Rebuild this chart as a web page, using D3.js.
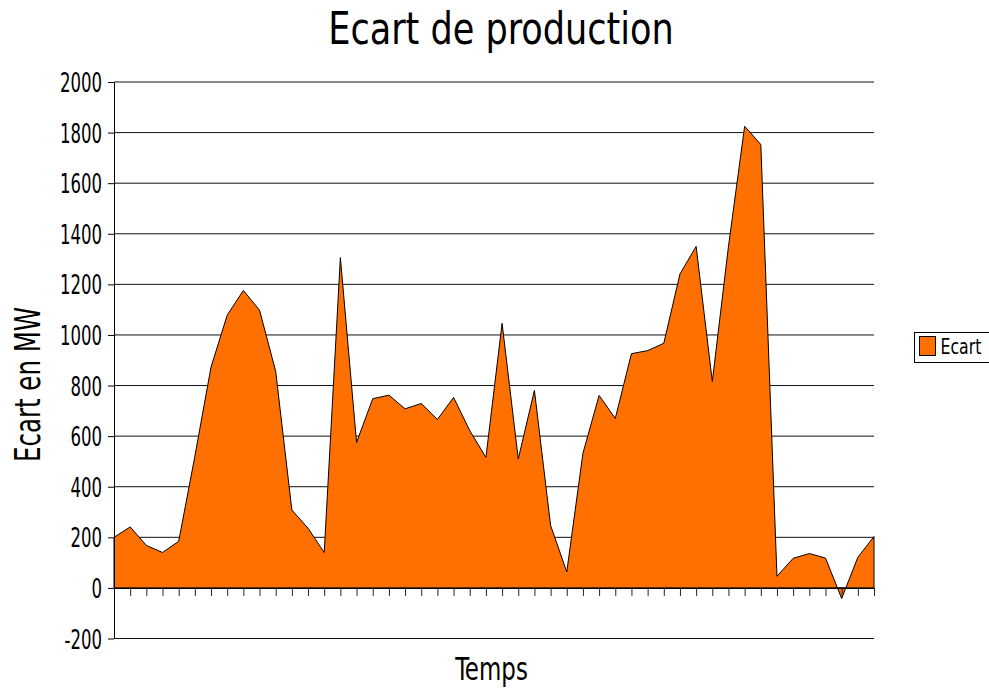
<!DOCTYPE html>
<meta charset="utf-8">
<script src="https://cdn.jsdelivr.net/npm/d3@7"></script>
<style>
  body { margin: 0; background: #fff; }
  text { font-family: "DejaVu Sans Condensed", "DejaVu Sans", sans-serif; fill: #000; }
</style>
<svg width="989" height="689"></svg>
<script>
// data
var titre = "Ecart de production",
  labelY = "Ecart en MW",
  labelX = "Temps",
  serie = "Ecart";

var ecart = [200, 241, 168, 140, 184, 520, 873, 1078, 1176, 1098, 856, 308, 236, 140,
  1306, 575, 748, 762, 708, 729, 666, 753, 622, 516, 1046, 510, 781, 247, 63, 532,
  761, 670, 926, 938, 967, 1241, 1350, 816, 1350, 1825, 1753, 46, 117, 136, 118, -42,
  121, 203];

var yTicks = [-200, 0, 200, 400, 600, 800, 1000, 1200, 1400, 1600, 1800, 2000];

var svg = d3.select("svg"),
  margin = { top: 82, right: 115, bottom: 50.5, left: 114 },
  width = +svg.attr("width"),
  height = +svg.attr("height");

var x = d3.scaleLinear()
  .domain([0, ecart.length - 1])
  .range([margin.left, width - margin.right]);

var y = d3.scaleLinear()
  .domain([-200, 2000])
  .range([height - margin.bottom, margin.top]);

//Grid
svg.append("g")
  .selectAll("line")
  .data(yTicks)
  .enter()
  .append("line")
  .attr("x1", x(0))
  .attr("x2", x(ecart.length - 1))
  .attr("y1", function(d) { return y(d); })
  .attr("y2", function(d) { return y(d); })
  .attr("stroke", "#111")
  .attr("stroke-width", 1);

//Area
var area = d3.area()
  .x(function(d, i) { return x(i); })
  .y0(y(0))
  .y1(function(d) { return y(d); });

svg.append("path")
  .datum(ecart)
  .attr("d", area)
  .attr("fill", "#ff7000")
  .attr("stroke", "#000")
  .attr("stroke-width", 1)
  .attr("stroke-linejoin", "miter");

//X-axis on the zero line
var xAxis = svg.append("g")
  .attr("transform", "translate(0," + y(0) + ")")
  .call(d3.axisBottom(x)
    .tickValues(d3.range(1, ecart.length))
    .tickFormat("")
    .tickSizeInner(8)
    .tickSizeOuter(0));
xAxis.selectAll("line").attr("stroke", "#222");
xAxis.select(".domain").attr("stroke", "#000");

//Y-axis
var yAxis = svg.append("g")
  .attr("transform", "translate(" + margin.left + ",0)")
  .call(d3.axisLeft(y)
    .tickValues(yTicks)
    .tickFormat(function(d) { return String(d); })
    .tickSizeInner(6)
    .tickSizeOuter(0)
    .tickPadding(0));
yAxis.select(".domain").attr("stroke", "#000");
yAxis.selectAll("line").attr("stroke", "#000");
yAxis.selectAll("text")
  .attr("x", null)
  .attr("dy", null)
  .attr("font-family", null)
  .attr("font-size", null)
  .style("font-size", "18.4px")
  .attr("transform", "translate(-12,9.6) scale(1,1.4)");

//Title
svg.append("text")
  .attr("transform", "translate(501,43.5) scale(1,1.13)")
  .attr("text-anchor", "middle")
  .style("font-size", "39px")
  .text(titre);

//X label
svg.append("text")
  .attr("transform", "translate(491.5,679.5) scale(1,1.22)")
  .attr("text-anchor", "middle")
  .style("font-size", "25.5px")
  .text(labelX);

//Y label
svg.append("text")
  .attr("transform", "translate(40,384.5) rotate(-90) scale(1,1.3)")
  .attr("text-anchor", "middle")
  .style("font-size", "27.2px")
  .text(labelY);

//Legend
var legend = svg.append("g");
legend.append("rect")
  .attr("x", 914.5).attr("y", 332.5)
  .attr("width", 90).attr("height", 30)
  .attr("fill", "#fff").attr("stroke", "#000");
legend.append("rect")
  .attr("x", 919.5).attr("y", 336.5)
  .attr("width", 16).attr("height", 19)
  .attr("fill", "#ff7000").attr("stroke", "#000");
legend.append("text")
  .attr("transform", "translate(940.5,354.3) scale(1,1.25)")
  .style("font-size", "17.5px")
  .text(serie);
</script>
